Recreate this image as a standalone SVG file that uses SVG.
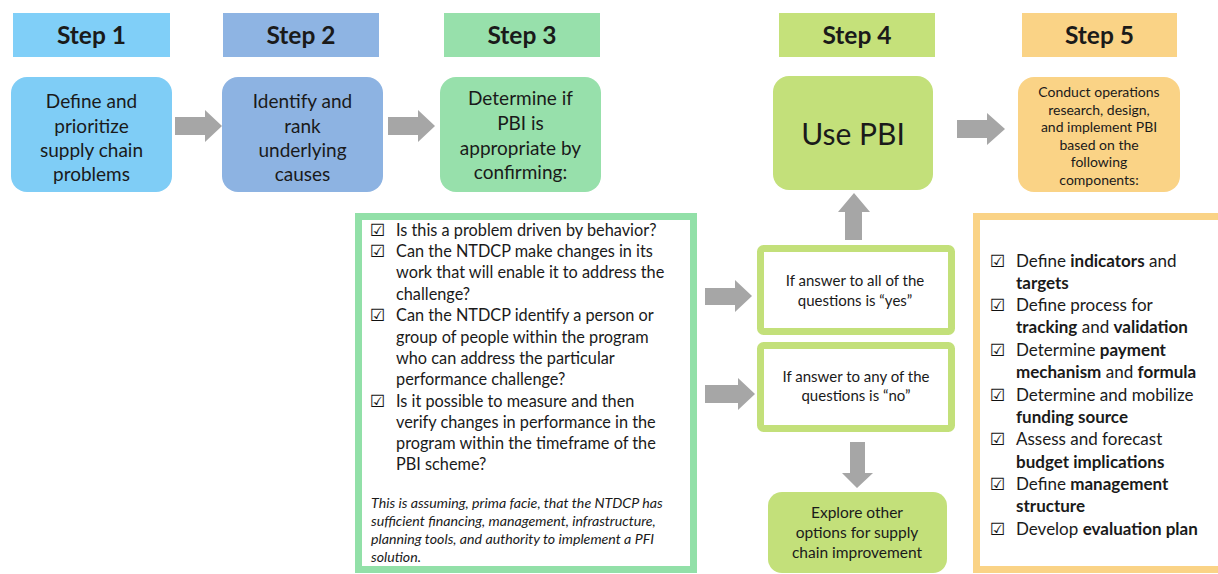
<svg xmlns="http://www.w3.org/2000/svg" width="1218" height="574" viewBox="0 0 1218 574">
<style>
text{font-family:Lato,"Liberation Sans",sans-serif;fill:#1a1a1a}
.hd{font-size:24.5px;font-weight:bold;text-anchor:middle}
.bd{font-size:19px;text-anchor:middle}
.sm{font-size:14px;text-anchor:middle}
.q{font-size:16.3px}
.it{font-size:14.2px;font-style:italic}
.l5{font-size:17px}
.cb{font-family:"DejaVu Sans",sans-serif;fill:#111111;font-weight:bold;font-style:normal;font-size:17px}
.arr{fill:#a6a6a6}
.b{font-weight:bold}
</style>
<rect width="1218" height="574" fill="#ffffff"/>
<g id="step1">
<rect x="13" y="13" width="157" height="44" fill="#80cff8"/>
<text class="hd" x="91.5" y="44">Step 1</text>
<rect x="11" y="77" width="161" height="115" rx="16" fill="#7fcdf6"/>
<text class="bd"><tspan x="91.5" y="108">Define and</tspan><tspan x="91.5" y="133">prioritize</tspan><tspan x="91.5" y="157">supply chain</tspan><tspan x="91.5" y="181">problems</tspan></text>
</g>
<g id="step2">
<rect x="223" y="13" width="156" height="44" fill="#8eb4e3"/>
<text class="hd" x="301" y="44">Step 2</text>
<rect x="222" y="77" width="161" height="115" rx="16" fill="#8db3e2"/>
<text class="bd"><tspan x="302.5" y="108">Identify and</tspan><tspan x="302.5" y="133">rank</tspan><tspan x="302.5" y="157">underlying</tspan><tspan x="302.5" y="181">causes</tspan></text>
</g>
<g id="step3">
<rect x="444" y="13" width="156" height="44" fill="#97e0ab"/>
<text class="hd" x="522" y="44">Step 3</text>
<rect x="440" y="77" width="161" height="115" rx="16" fill="#97e0ab"/>
<text class="bd"><tspan x="520.5" y="105">Determine if</tspan><tspan x="520.5" y="130">PBI is</tspan><tspan x="520.5" y="155">appropriate by</tspan><tspan x="520.5" y="179">confirming:</tspan></text>
</g>
<g id="step4">
<rect x="779" y="13" width="156" height="44" fill="#c5e17a"/>
<text class="hd" x="857" y="44">Step 4</text>
<rect x="773" y="76" width="160" height="114" rx="16" fill="#c3e07a"/>
<text x="853" y="145" style="font-size:30px;text-anchor:middle">Use PBI</text>
</g>
<g id="step5">
<rect x="1022" y="13" width="155" height="44" fill="#fad386"/>
<text class="hd" x="1099.5" y="44">Step 5</text>
<rect x="1018" y="77" width="162" height="115" rx="16" fill="#fad386"/>
<text class="sm"><tspan x="1099" y="97">Conduct operations</tspan><tspan x="1099" y="115">research, design,</tspan><tspan x="1099" y="132">and implement PBI</tspan><tspan x="1099" y="150">based on the</tspan><tspan x="1099" y="167">following</tspan><tspan x="1099" y="185">components:</tspan></text>
</g>
<g id="checklist">
<rect x="358.5" y="216.5" width="335" height="353" fill="#ffffff" stroke="#92e0a8" stroke-width="7"/>
<g class="q">
<text class="cb" x="370" y="236">☑︎</text><text x="396" y="236">Is this a problem driven by behavior?</text>
<text class="cb" x="370" y="257">☑︎</text><text x="396" y="257">Can the NTDCP make changes in its</text>
<text x="396" y="278">work that will enable it to address the</text>
<text x="396" y="300">challenge?</text>
<text class="cb" x="370" y="321">☑︎</text><text x="396" y="321">Can the NTDCP identify a person or</text>
<text x="396" y="343">group of people within the program</text>
<text x="396" y="364">who can address the particular</text>
<text x="396" y="385">performance challenge?</text>
<text class="cb" x="370" y="407">☑︎</text><text x="396" y="407">Is it possible to measure and then</text>
<text x="396" y="428">verify changes in performance in the</text>
<text x="396" y="449">program within the timeframe of the</text>
<text x="396" y="470">PBI scheme?</text>
</g>
<g class="it">
<text x="371" y="508">This is assuming, prima facie, that the NTDCP has</text>
<text x="371" y="526">sufficient financing, management, infrastructure,</text>
<text x="371" y="544">planning tools, and authority to implement a PFI</text>
<text x="371" y="562">solution.</text>
</g>
</g>
<g id="yes">
<rect x="760.5" y="248.5" width="191" height="83" rx="3" fill="#ffffff" stroke="#c3e07a" stroke-width="7"/>
<text class="sm" style="font-size:15px"><tspan x="855" y="286">If answer to all of the</tspan><tspan x="855" y="306">questions is “yes”</tspan></text>
</g>
<g id="no">
<rect x="760.5" y="345.5" width="191" height="83" rx="3" fill="#ffffff" stroke="#c3e07a" stroke-width="7"/>
<text class="sm" style="font-size:15px"><tspan x="856" y="382">If answer to any of the</tspan><tspan x="856" y="401">questions is “no”</tspan></text>
</g>
<g id="explore">
<rect x="768" y="492" width="179" height="81" rx="14" fill="#c3e07a"/>
<text class="sm" style="font-size:15.5px"><tspan x="857" y="518">Explore other</tspan><tspan x="857" y="538">options for supply</tspan><tspan x="857" y="558">chain improvement</tspan></text>
</g>
<g id="components">
<rect x="976.5" y="216.5" width="262" height="353" fill="#ffffff" stroke="#fad386" stroke-width="7"/>
<g class="l5">
<text class="cb" x="990" y="267">☑︎</text><text x="1016" y="267">Define <tspan class="b">indicators</tspan>  and</text>
<text x="1016" y="289" class="b">targets</text>
<text class="cb" x="990" y="311">☑︎</text><text x="1016" y="311">Define process for</text>
<text x="1016" y="333"><tspan class="b">tracking</tspan> and <tspan class="b">validation</tspan></text>
<text class="cb" x="990" y="356">☑︎</text><text x="1016" y="356">Determine <tspan class="b">payment</tspan></text>
<text x="1016" y="378"><tspan class="b">mechanism</tspan> and <tspan class="b">formula</tspan></text>
<text class="cb" x="990" y="401">☑︎</text><text x="1016" y="401">Determine and mobilize</text>
<text x="1016" y="423" class="b">funding source</text>
<text class="cb" x="990" y="445">☑︎</text><text x="1016" y="445">Assess and forecast</text>
<text x="1016" y="468" class="b">budget implications</text>
<text class="cb" x="990" y="490">☑︎</text><text x="1016" y="490">Define <tspan class="b">management</tspan></text>
<text x="1016" y="512" class="b">structure</text>
<text class="cb" x="990" y="535">☑︎</text><text x="1016" y="535">Develop <tspan class="b">evaluation plan</tspan></text>
</g>
</g>
<g id="connectors">
<polygon class="arr" points="175,117 205,117 205,110 222,126 205,142 205,135 175,135"/>
<polygon class="arr" points="388,117 418,117 418,110 435,126 418,142 418,135 388,135"/>
<polygon class="arr" points="957,120 987,120 987,113 1005,129 987,145 987,138 957,138"/>
<polygon class="arr" points="845,240 845,212 838,212 854,193 870,212 862,212 862,240"/>
<polygon class="arr" points="705,288 735,288 735,280 752,296 735,312 735,305 705,305"/>
<polygon class="arr" points="705,385 738,385 738,378 755,394 738,410 738,403 705,403"/>
<polygon class="arr" points="850,442 865,442 865,473 873,473 857,488 842,473 850,473"/>
</g>
</svg>
